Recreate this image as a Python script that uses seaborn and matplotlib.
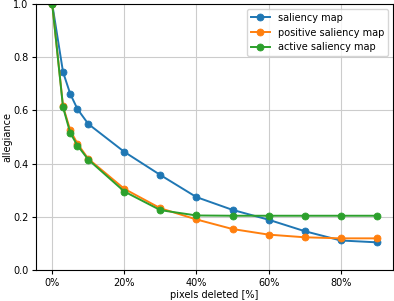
import numpy as np
import pandas as pd
import matplotlib
matplotlib.use("Agg")
import matplotlib.pyplot as plt
import seaborn as sns
from matplotlib.ticker import PercentFormatter

# pixels deleted in percent
deleted = [0, 3, 5, 7, 10, 20, 30, 40, 50, 60, 70, 80, 90]

saliency = [1.0, 0.744, 0.662, 0.605, 0.549, 0.444, 0.357, 0.274, 0.226, 0.189, 0.146, 0.111, 0.104]
positive = [1.0, 0.615, 0.525, 0.475, 0.418, 0.305, 0.232, 0.190, 0.154, 0.133, 0.123, 0.119, 0.119]
active = [1.0, 0.612, 0.515, 0.468, 0.415, 0.295, 0.225, 0.205, 0.204, 0.204, 0.204, 0.204, 0.204]

names = ["saliency map", "positive saliency map", "active saliency map"]

df = pd.DataFrame({
    "deleted": deleted * 3,
    "allegiance": saliency + positive + active,
    "method": np.repeat(names, len(deleted)),
})

plt.rcParams["font.size"] = 7
plt.rcParams["xtick.major.size"] = 3
plt.rcParams["ytick.major.size"] = 3
plt.rcParams["xtick.major.pad"] = 2.5
plt.rcParams["ytick.major.pad"] = 2.5

fig, ax = plt.subplots(figsize=(3.94, 3.01), dpi=100)
fig.subplots_adjust(left=36/394, right=393/394, top=1-4/301, bottom=1-270/301)

sns.lineplot(data=df, x="deleted", y="allegiance", hue="method", hue_order=names,
             palette=["#1f77b4", "#ff7f0e", "#2ca02c"], marker="o", markersize=5,
             linewidth=1.4, ax=ax)

# markers with edges in the line colour, like plain matplotlib
for line in ax.lines:
    line.set_markeredgecolor(line.get_color())
    line.set_markeredgewidth(0.6)

ax.set_ylim(0, 1)
ax.set_xticks([0, 20, 40, 60, 80])
ax.xaxis.set_major_formatter(PercentFormatter(decimals=0))
ax.set_xlabel("pixels deleted [%]", labelpad=2)
ax.set_ylabel("allegiance", labelpad=0.5)
ax.grid(True, color="#cccccc", linewidth=0.8)
ax.set_axisbelow(True)
leg = ax.legend(title=None, loc="upper right")
for h in leg.get_lines():
    h.set_markeredgecolor(h.get_color())
    h.set_markeredgewidth(0.6)

plt.savefig("out.png", dpi=100)
